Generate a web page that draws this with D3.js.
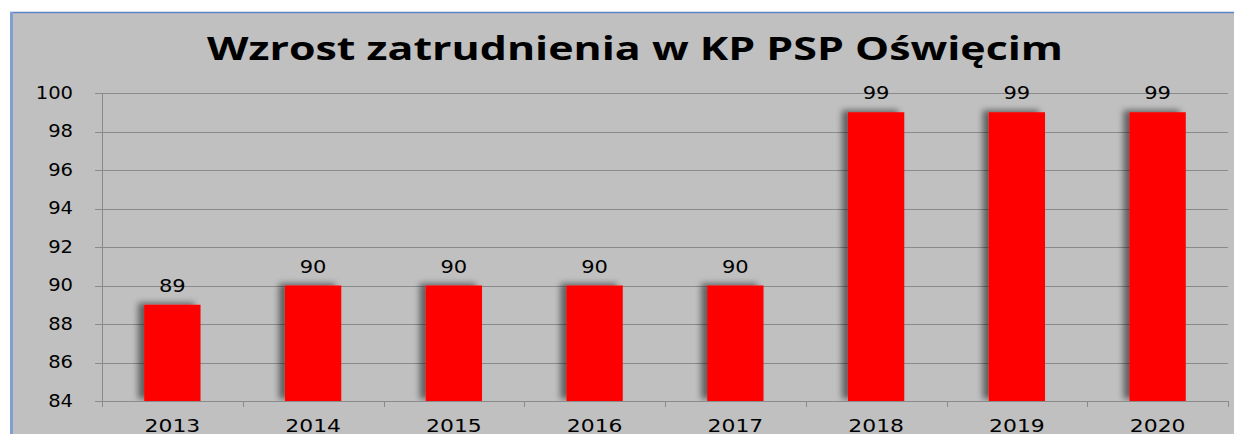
<!DOCTYPE html>
<html>
<head>
<meta charset="utf-8">
<script src="https://cdn.jsdelivr.net/npm/d3@7"></script>
<style>
  body { margin: 0; background: #fff; }
  svg { display: block; }
</style>
</head>
<body>
<svg id="chart" width="1234" height="434"></svg>
<script>
const years = ['2013', '2014', '2015', '2016', '2017', '2018', '2019', '2020'];
const employees = [89, 90, 90, 90, 90, 99, 99, 99];
const yTicks = [84, 86, 88, 90, 92, 94, 96, 98, 100];
const title = 'Wzrost zatrudnienia w KP PSP Oświęcim';

const width = 1234, height = 434;
const margin = { top: 93, right: 6, bottom: 33, left: 102 };
const labelFont = 'DejaVu Sans, Verdana, sans-serif';

const svg = d3.select('#chart');

// widen text like the stretched original picture
function stretch(sel, k) {
  sel.each(function () {
    const len = this.getComputedTextLength();
    d3.select(this).attr('textLength', len * k).attr('lengthAdjust', 'spacingAndGlyphs');
  });
}

// panel background
svg.append('rect')
  .attr('x', 10).attr('y', 12)
  .attr('width', width - 10).attr('height', height - 12)
  .attr('fill', '#c0c0c0');
svg.append('line')
  .attr('x1', 10).attr('x2', width).attr('y1', 12.5).attr('y2', 12.5)
  .attr('stroke', '#5b84c8').attr('stroke-width', 1.5);
svg.append('line')
  .attr('x1', 11.5).attr('x2', 11.5).attr('y1', 12).attr('y2', height)
  .attr('stroke', '#7f9fd0').attr('stroke-width', 3);

const defs = svg.append('defs');
const shadow = defs.append('filter').attr('id', 'shadow')
  .attr('x', '-60%').attr('y', '-20%').attr('width', '220%').attr('height', '140%');
shadow.append('feGaussianBlur').attr('in', 'SourceAlpha').attr('stdDeviation', 3).attr('result', 'blur');
shadow.append('feOffset').attr('in', 'blur').attr('dx', -6).attr('dy', -2).attr('result', 'off');
shadow.append('feComponentTransfer').attr('in', 'off').attr('result', 'dim')
  .append('feFuncA').attr('type', 'linear').attr('slope', 0.5);
const merge = shadow.append('feMerge');
merge.append('feMergeNode').attr('in', 'dim');
merge.append('feMergeNode').attr('in', 'SourceGraphic');

const x = d3.scaleBand()
  .domain(years)
  .range([margin.left, width - margin.right])
  .paddingInner(0.6)
  .paddingOuter(0.3);

const y = d3.scaleLinear()
  .domain([84, 100])
  .range([height - margin.bottom, margin.top]);

defs.append('clipPath').attr('id', 'plot')
  .append('rect')
  .attr('x', margin.left + 1).attr('y', 0)
  .attr('width', width - margin.left).attr('height', height - margin.bottom);

// gridlines
svg.append('g')
  .selectAll('line')
  .data(yTicks)
  .join('line')
  .attr('x1', margin.left - 7)
  .attr('x2', width - margin.right)
  .attr('y1', d => Math.round(y(d)) + 0.5)
  .attr('y2', d => Math.round(y(d)) + 0.5)
  .attr('stroke', '#8a8a8a')
  .attr('stroke-width', 1);

// y axis labels
const yAxis = svg.append('g')
  .attr('transform', `translate(${margin.left},0)`)
  .call(d3.axisLeft(y).tickValues(yTicks).tickSize(0).tickPadding(29));
yAxis.select('.domain').remove();
yAxis.selectAll('text')
  .attr('font-family', labelFont)
  .attr('font-size', 17)
  .attr('fill', '#000')
  .call(stretch, 1.15);

// vertical axis line
svg.append('line')
  .attr('x1', margin.left + 0.5).attr('x2', margin.left + 0.5)
  .attr('y1', margin.top).attr('y2', height - margin.bottom + 6)
  .attr('stroke', '#8a8a8a');

// bars
svg.append('g')
  .attr('clip-path', 'url(#plot)')
  .selectAll('rect')
  .data(years)
  .join('rect')
  .attr('x', d => x(d))
  .attr('y', (d, i) => y(employees[i]))
  .attr('width', x.bandwidth())
  .attr('height', (d, i) => y(84) - y(employees[i]))
  .attr('fill', '#ff0000')
  .attr('filter', 'url(#shadow)');

// x axis
const step = x.step();
const xAxis = svg.append('g')
  .attr('transform', `translate(0,${height - margin.bottom})`)
  .call(d3.axisBottom(x).tickSize(0).tickPadding(19));
xAxis.select('.domain').attr('stroke', '#8a8a8a');
xAxis.selectAll('text')
  .attr('font-family', labelFont)
  .attr('font-size', 17.5)
  .attr('fill', '#000')
  .call(stretch, 1.25);
xAxis.selectAll('.sep')
  .data(years)
  .join('line')
  .attr('class', 'sep')
  .attr('x1', d => Math.round(x(d) + x.bandwidth() / 2 + step / 2) + 0.5)
  .attr('x2', d => Math.round(x(d) + x.bandwidth() / 2 + step / 2) + 0.5)
  .attr('y1', 0).attr('y2', 6)
  .attr('stroke', '#8a8a8a');

// value labels
svg.append('g')
  .selectAll('text')
  .data(years)
  .join('text')
  .attr('x', d => x(d) + x.bandwidth() / 2)
  .attr('y', (d, i) => y(employees[i]) - 13)
  .attr('text-anchor', 'middle')
  .attr('font-family', labelFont)
  .attr('font-size', 17.5)
  .attr('fill', '#000')
  .text((d, i) => employees[i])
  .call(stretch, 1.2);

// title
svg.append('text')
  .attr('x', 635)
  .attr('y', 60)
  .attr('text-anchor', 'middle')
  .attr('font-family', 'Open Sans, Liberation Sans, sans-serif')
  .attr('font-weight', 'bold')
  .attr('font-size', 33)
  .attr('fill', '#000')
  .attr('textLength', 856)
  .attr('lengthAdjust', 'spacingAndGlyphs')
  .text(title);
</script>
</body>
</html>
